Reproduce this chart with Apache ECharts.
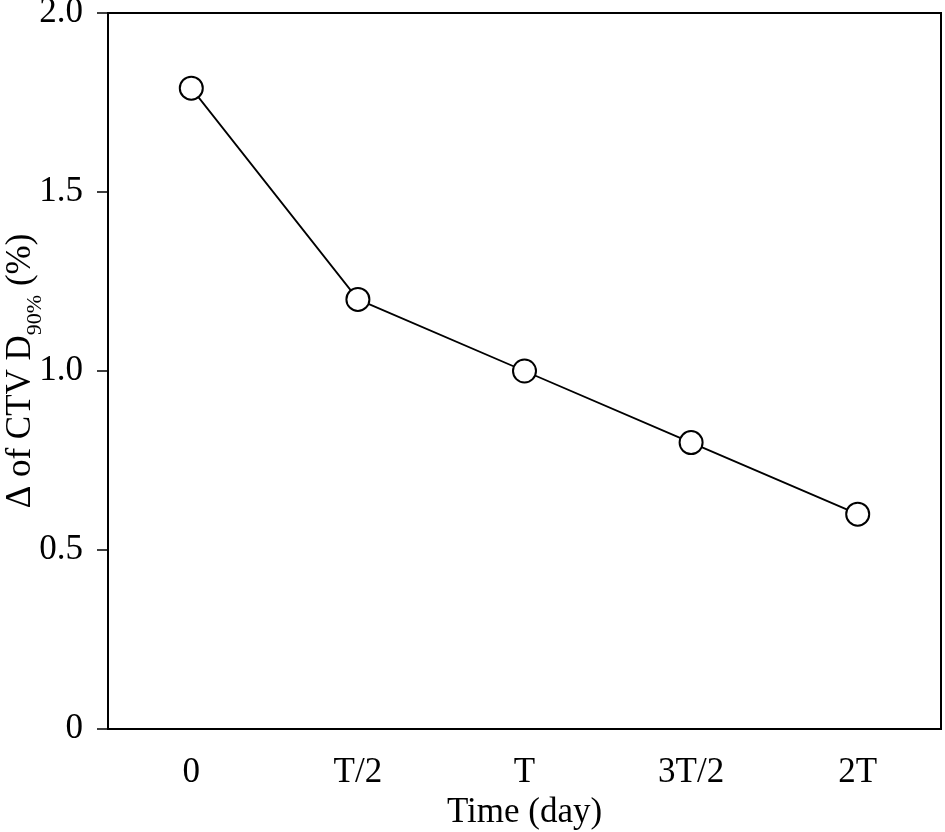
<!DOCTYPE html>
<html><head><meta charset="utf-8">
<script src="https://cdn.jsdelivr.net/npm/echarts@6/dist/echarts.min.js"></script>
<style>html,body{margin:0;padding:0;background:#fff}#c{width:945px;height:832px}</style>
</head><body><div id="c"></div>
<script>
const categories = ['0', 'T/2', 'T', '3T/2', '2T'];
const deltaValues = [1.79, 1.2, 1.0, 0.8, 0.6];
const yTicks = [0, 0.5, 1.0, 1.5, 2.0];

const FONT = '"Liberation Serif", "DejaVu Serif", serif';
const chart = echarts.init(document.getElementById('c'), null, {renderer: 'canvas'});
chart.setOption({
  animation: false,
  backgroundColor: '#fff',
  grid: {left: 108, right: 4, top: 13, bottom: 103, containLabel: false, outerBoundsMode: 'none',
    show: true, borderColor: '#000', borderWidth: 2, backgroundColor: 'transparent'},
  xAxis: {
    type: 'category', data: categories, boundaryGap: true,
    name: 'Time (day)', nameLocation: 'middle', nameGap: 66, nameMoveOverlap: false,
    nameTextStyle: {fontFamily: FONT, fontSize: 35, color: '#000'},
    axisLine: {lineStyle: {color: '#000', width: 2}},
    axisTick: {alignWithLabel: true, length: 11, lineStyle: {color: '#000', width: 1.5}},
    axisLabel: {fontFamily: FONT, fontSize: 35, color: '#000', margin: 26}
  },
  yAxis: {
    type: 'value', min: 0, max: 2, interval: 0.5,
    name: '{a|Δ of CTV D}{s|90%}{a| (%)}', nameLocation: 'middle', nameGap: 70, nameRotate: 90,
    nameMoveOverlap: false,
    nameTextStyle: {rich: {
      a: {fontFamily: FONT, fontSize: 35, color: '#000'},
      s: {fontFamily: FONT, fontSize: 22, color: '#000', verticalAlign: 'bottom', padding: [0, 0, -8, 0]}
    }},
    splitLine: {show: false},
    axisLine: {show: true, lineStyle: {color: '#000', width: 2}},
    axisTick: {show: true, length: 11, lineStyle: {color: '#000', width: 1.5}},
    axisLabel: {fontFamily: FONT, fontSize: 35, color: '#000', margin: 25,
      formatter: v => { const t = yTicks.find(x => Math.abs(x - v) < 1e-9); return t === 0 ? '0' : t.toFixed(1); }}
  },
  series: [{
    type: 'line', data: deltaValues,
    symbol: 'circle', symbolSize: 23,
    lineStyle: {color: '#000', width: 1.8},
    itemStyle: {color: '#fff', borderColor: '#000', borderWidth: 2}
  }]
});
</script></body></html>
